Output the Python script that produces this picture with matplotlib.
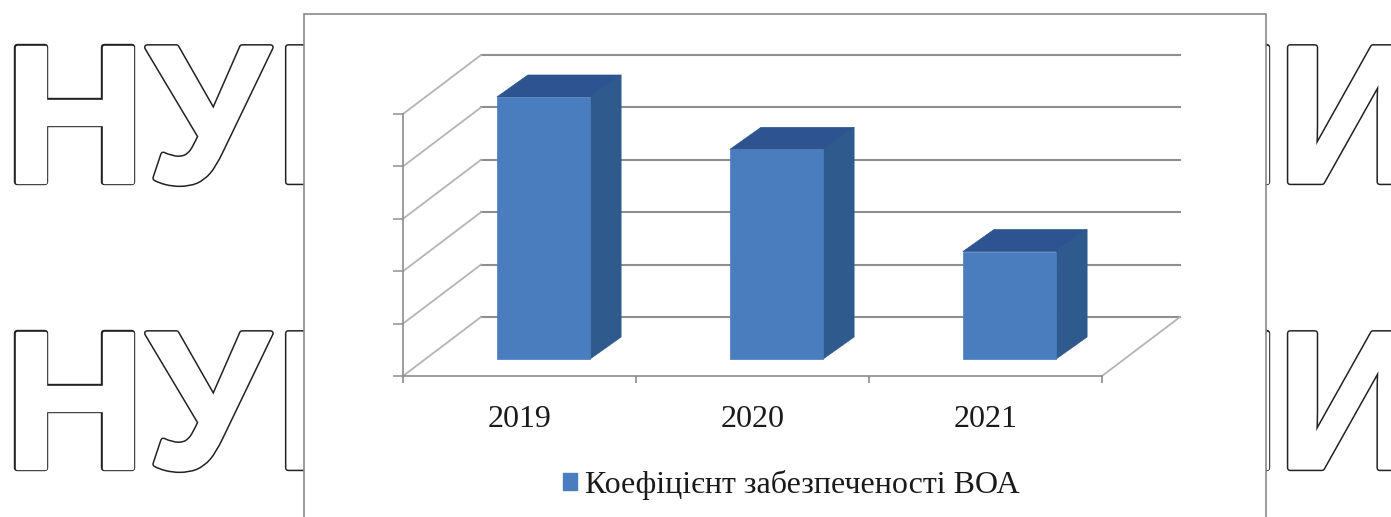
import matplotlib
matplotlib.use('Agg')
import matplotlib.pyplot as plt
import matplotlib.patheffects as pe
from matplotlib.patches import Patch, Polygon, Rectangle
from matplotlib.transforms import Affine2D

W, H = 1391, 517

years = ['2019', '2020', '2021']
values = [5.0, 4.0, 2.05]
y_grid = [0, 1, 2, 3, 4, 5]
series_name = 'Коефіцієнт забезпеченості ВОА'

# watermark letters: (letter, left x) for each row baseline
left_letters = [('Н', 4), ('У', 147), ('Б', 275)]
right_letters = [('Н', 1139), ('И', 1277)]
row_baselines = [182, 468]

FRONT = '#4a7dbd'
SIDE = '#2f5a8e'
TOP = '#2d5490'
GRID = '#8f8f8f'
WALL = '#b4b4b4'

fig = plt.figure(figsize=(W / 100, H / 100), dpi=100, facecolor='white')

# background lettering, partly covered by the chart panel
# black stroke under a slightly thinner white one leaves a rounded outline
for base in row_baselines:
    for letter, x in left_letters + right_letters:
        t = fig.text(x / W, 1 - base / H, letter, fontsize=141, color='white',
                     family='Liberation Sans', weight='bold', va='baseline', ha='left', zorder=-5)
        t.set_path_effects([pe.Stroke(linewidth=4.6, foreground='#222222', joinstyle='round'),
                            pe.Stroke(linewidth=2.4, foreground='white', joinstyle='round'),
                            pe.Normal()])

panel = Rectangle((304 / W, 1 - 530 / H), 962 / W, 516 / H, transform=fig.transFigure,
                  facecolor='white', edgecolor='#8a8a8a', linewidth=1.2, zorder=-1)
fig.add_artist(panel)

ax = fig.add_axes([403 / W, 1 - 376 / H, 699 / W, 262 / H])
ax.patch.set_visible(False)
ax.set_xlim(0, 3)
ax.set_ylim(0, 5)


def depth(dx, dy):
    # shifts data coordinates back into the 3D depth of the chart box, in pixels
    return ax.transData + Affine2D().translate(dx, dy)


back = depth(78, 59)
for v in y_grid:
    ax.plot([0, 3], [v, v], color=GRID, lw=1.5, transform=back, clip_on=False, zorder=1)
    # side wall line from the front axis to the back wall
    x0, y0 = ax.transData.transform((0, v))
    ax.plot([x0, x0 + 78], [y0, y0 + 59], color=WALL, lw=1.3, transform=None, clip_on=False, zorder=1)

x0, y0 = ax.transData.transform((3, 0))
ax.plot([x0, x0 + 78], [y0, y0 + 59], color=WALL, lw=1.3, transform=None, clip_on=False, zorder=1)

bar_w = 0.4
near = depth(24, 17)
far = depth(55, 39)
for i, v in enumerate(values):
    l = i + 0.5 - bar_w / 2
    r = i + 0.5 + bar_w / 2
    # convert to pixels so the three faces can share one polygon space
    nl0 = near.transform((l, 0))
    nr0 = near.transform((r, 0))
    nlv = near.transform((l, v))
    nrv = near.transform((r, v))
    fr0 = far.transform((r, 0))
    frv = far.transform((r, v))
    flv = far.transform((l, v))
    faces = [([nr0, fr0, frv, nrv], SIDE), ([nlv, nrv, frv, flv], TOP), ([nl0, nr0, nrv, nlv], FRONT)]
    for pts, col in faces:
        ax.add_patch(Polygon(pts, closed=True, facecolor=col, edgecolor=col, lw=0.5,
                             transform=None, clip_on=False, zorder=3))

for side in ['top', 'right']:
    ax.spines[side].set_visible(False)
for side in ['left', 'bottom']:
    ax.spines[side].set_color('#8c8c8c')
    ax.spines[side].set_linewidth(1.2)

ax.set_yticks(y_grid)
ax.set_yticklabels([])
ax.tick_params(axis='y', length=7, width=1.2, color='#9a9a9a')
ax.set_xticks([0, 1, 2, 3])
ax.set_xticklabels([])
ax.tick_params(axis='x', which='major', length=5, width=1.2, color='#8c8c8c')
ax.set_xticks([0.5, 1.5, 2.5], minor=True)
ax.set_xticklabels(years, minor=True, fontsize=23, family='Liberation Serif', color='#1a1a1a')
ax.tick_params(axis='x', which='minor', length=0, pad=21)

handle = Patch(facecolor=FRONT, edgecolor=FRONT)
fig.legend([handle], [series_name], loc='center', bbox_to_anchor=(791 / W, 1 - 485 / H), frameon=False,
           prop={'family': 'Liberation Serif', 'size': 23}, handlelength=0.44, handleheight=0.44,
           handletextpad=0.25, labelcolor='#1a1a1a')

fig.savefig('out.png', dpi=100)
